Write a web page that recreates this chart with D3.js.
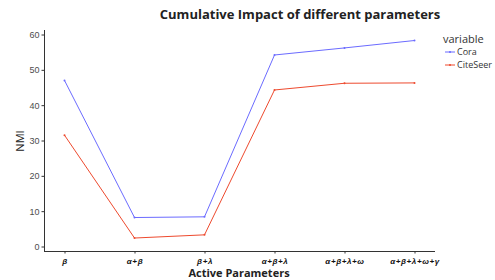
<!DOCTYPE html>
<html>
<head>
<meta charset="utf-8">
<script src="https://cdn.jsdelivr.net/npm/d3@7"></script>
<style>
  body { margin: 0; background: #fff; font-family: "Open Sans", "Noto Sans", sans-serif; }
  .yaxis text { fill: #4d4d4d; font-size: 9px; }
  .xaxis text { fill: #111; font-size: 8px; font-weight: bold; font-style: italic; letter-spacing: 0.6px; }
  .axis path, .axis line { stroke: #333; }
</style>
</head>
<body>
<div id="chart"></div>
<script>
var categories = ["\u03b2", "\u03b1+\u03b2", "\u03b2+\u03bb", "\u03b1+\u03b2+\u03bb", "\u03b1+\u03b2+\u03bb+\u03c9", "\u03b1+\u03b2+\u03bb+\u03c9+\u03b3"]
var coraValues = [47.0, 8.2, 8.4, 54.2, 56.2, 58.3]
var citeseerValues = [31.5, 2.4, 3.3, 44.3, 46.2, 46.3]
var seriesNames = ["Cora", "CiteSeer"]
var seriesColors = ["#6b6bff", "#ee4a2e"]
var yTicks = [0, 10, 20, 30, 40, 50, 60]

var width = 495, height = 280
var margin = { top: 30, left: 44, right: 60, bottom: 29 }

var svg = d3.select("#chart").append("svg")
    .attr("width", width).attr("height", height)

var x = d3.scalePoint()
    .domain(categories)
    .range([64.5, 414.5])

var y = d3.scaleLinear()
    .domain([0, 60])
    .range([246.5, 34.5])

// y axis
var yAxis = svg.append("g")
    .attr("class", "axis yaxis")
    .attr("transform", "translate(" + margin.left + ",0)")
    .call(d3.axisLeft(y).tickValues(yTicks).tickSize(2.5).tickPadding(2))
yAxis.select(".domain").attr("d", "M0.5,30V251")

// x axis
var xAxis = svg.append("g")
    .attr("class", "axis xaxis")
    .attr("transform", "translate(0,251)")
    .call(d3.axisBottom(x).tickSize(2.5).tickPadding(5))
xAxis.select(".domain").attr("d", "M" + margin.left + ",0.5H435")

var series = [coraValues, citeseerValues]
var line = d3.line()
    .x(function(d, i) { return x(categories[i]) })
    .y(function(d) { return y(d) })

series.forEach(function(vals, s) {
    svg.append("path")
        .datum(vals)
        .attr("fill", "none")
        .attr("stroke", seriesColors[s])
        .attr("stroke-width", 1)
        .attr("d", line)
    svg.selectAll(".pt" + s)
        .data(vals)
        .enter().append("circle")
        .attr("cx", function(d, i) { return x(categories[i]) })
        .attr("cy", function(d) { return y(d) })
        .attr("r", 1)
        .attr("fill", seriesColors[s])
})

// title and axis labels
svg.append("text")
    .attr("x", 300).attr("y", 19)
    .attr("text-anchor", "middle")
    .style("font-size", "13px").style("font-weight", "bold").style("fill", "#222")
    .text("Cumulative Impact of different parameters")

svg.append("text")
    .attr("x", 239).attr("y", 277)
    .attr("text-anchor", "middle")
    .style("font-size", "11px").style("font-weight", "bold").style("fill", "#222")
    .text("Active Parameters")

svg.append("text")
    .attr("transform", "translate(24,141) rotate(-90)")
    .attr("text-anchor", "middle")
    .style("font-size", "11px").style("fill", "#222")
    .text("NMI")

// legend
var legend = svg.append("g").attr("transform", "translate(443,0)")
legend.append("text")
    .attr("x", 0).attr("y", 43)
    .style("font-size", "11px").style("fill", "#333")
    .text("variable")
seriesNames.forEach(function(name, i) {
    var yy = 52 + i * 13
    legend.append("line")
        .attr("x1", 2).attr("x2", 12)
        .attr("y1", yy).attr("y2", yy)
        .attr("stroke", seriesColors[i]).attr("stroke-width", 1)
    legend.append("circle")
        .attr("cx", 7).attr("cy", yy).attr("r", 1)
        .attr("fill", seriesColors[i])
    legend.append("text")
        .attr("x", 14).attr("y", yy + 3)
        .style("font-size", "9px").style("fill", "#333")
        .text(name)
})
</script>
</body>
</html>
